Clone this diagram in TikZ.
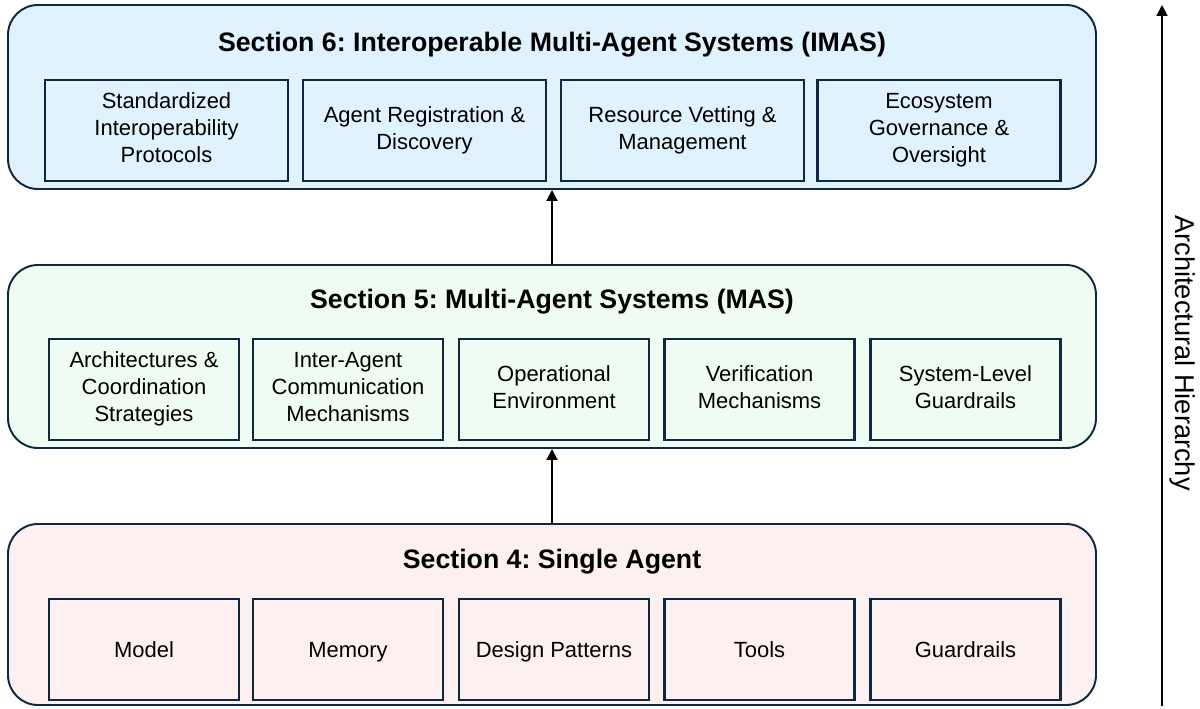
\documentclass[tikz,border=0pt]{standalone}
\usepackage{fontspec}
\setmainfont{Liberation Sans}
\usetikzlibrary{arrows.meta}
\definecolor{edgeblue}{HTML}{0E2841}
\definecolor{imasfill}{HTML}{DFF2FD}
\definecolor{masfill}{HTML}{EFFCF2}
\definecolor{safill}{HTML}{FDF0F0}
\newcommand{\itemstrut}{\rule[-0.25em]{0pt}{1.22em}}
\frenchspacing

\begin{document}
\begin{tikzpicture}[%
    layer/.style={
      rectangle,
      draw=edgeblue,
      line width=1.1pt,
      rounded corners=0.6cm,
      minimum width=21.76cm
    },
    item/.style={
      rectangle,
      draw=edgeblue,
      line width=1.3pt,
      align=center,
      minimum height=2.02cm,
      font=\fontsize{12.5}{15.3}\selectfont,
      execute at begin node=\itemstrut,
      execute at end node=\itemstrut
    },
    heading/.style={
      font=\fontsize{15.2}{18}\selectfont\bfseries
    },
    uparrow/.style={
      -{Triangle[length=2.2mm,width=2.2mm]},
      line width=1.1pt
    }
  ]
  \useasboundingbox (0,0) rectangle (24,14.16);

  % outer layers
  \draw (11.04,12.22) node[layer, fill=imasfill, minimum height=3.68cm] (imas) {};
  \draw (11.04,7.03) node[layer, fill=masfill, minimum height=3.66cm] (mas) {};
  \draw (11.04,1.87) node[layer, fill=safill, minimum height=3.62cm] (sa) {};

  % section 6
  \draw (11.04,13.26) node[heading] (imastitle) {Section 6: Interoperable Multi-Agent Systems (IMAS)};
  \draw (3.33,11.55) node[item, minimum width=4.86cm] (proto) {Standardized\\ Interoperability\\ Protocols};
  \draw (8.49,11.55) node[item, minimum width=4.86cm] (regist) {Agent Registration \&\\ Discovery};
  \draw (13.65,11.55) node[item, minimum width=4.86cm] (vetting) {Resource Vetting \&\\ Management};
  \draw (18.78,11.55) node[item, minimum width=4.86cm] (govern) {Ecosystem\\ Governance \&\\ Oversight};

  % section 5
  \draw (11.04,8.12) node[heading] (mastitle) {Section 5: Multi-Agent Systems (MAS)};
  \draw (2.88,6.37) node[item, minimum width=3.8cm] (archi) {Architectures \&\\ Coordination\\ Strategies};
  \draw (6.96,6.37) node[item, minimum width=3.8cm] (comm) {Inter-Agent\\ Communication\\ Mechanisms};
  \draw (11.08,6.37) node[item, minimum width=3.8cm] (openv) {Operational\\ Environment};
  \draw (15.19,6.37) node[item, minimum width=3.8cm] (verif) {Verification\\ Mechanisms};
  \draw (19.31,6.37) node[item, minimum width=3.8cm] (sysguard) {System-Level\\ Guardrails};

  % section 4
  \draw (11.04,2.92) node[heading] (satitle) {Section 4: Single Agent};
  \draw (2.88,1.17) node[item, minimum width=3.8cm] (model) {Model};
  \draw (6.96,1.17) node[item, minimum width=3.8cm] (memory) {Memory};
  \draw (11.08,1.17) node[item, minimum width=3.8cm] (design) {Design Patterns};
  \draw (15.19,1.17) node[item, minimum width=3.8cm] (tools) {Tools};
  \draw (19.31,1.17) node[item, minimum width=3.8cm] (guard) {Guardrails};

  % connectors
  \draw[uparrow] (sa.north) -- (mas.south);
  \draw[uparrow] (mas.north) -- (imas.south);

  % hierarchy axis
  \coordinate (hbot) at (23.24,0.04);
  \coordinate (htop) at (23.24,14.06);
  \draw[uparrow] (hbot) -- (htop);
  \draw (23.66,7.1) node[rotate=-90, font=\fontsize{15.5}{18}\selectfont] (hlabel) {Architectural Hierarchy};

\end{tikzpicture}
\end{document}
